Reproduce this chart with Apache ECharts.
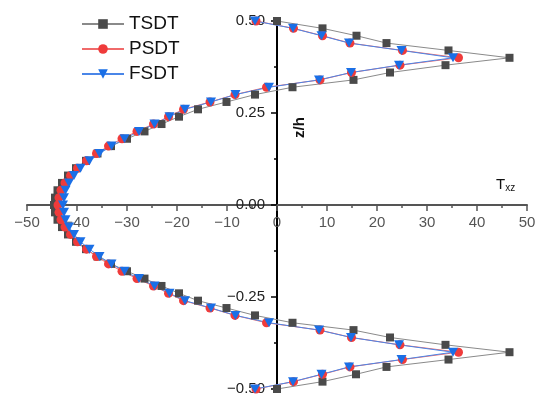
<!DOCTYPE html>
<html>
<head>
<meta charset="utf-8">
<script type="text/javascript" src="https://cdn.jsdelivr.net/npm/echarts@6/dist/echarts.min.js"></script>
<style>
    html, body { margin: 0; padding: 0; background: #fff; }
    #chart { width: 538px; height: 398px; }
</style>
</head>
<body>
<div id="chart"></div>
<script>
    // z/h positions, bottom to top
    var zh = [-0.50, -0.48, -0.46, -0.44, -0.42, -0.40, -0.38, -0.36, -0.34, -0.32,
        -0.30, -0.28, -0.26, -0.24, -0.22, -0.20, -0.18, -0.16, -0.14, -0.12,
        -0.10, -0.08, -0.06, -0.04, -0.02, 0.00, 0.02, 0.04, 0.06, 0.08,
        0.10, 0.12, 0.14, 0.16, 0.18, 0.20, 0.22, 0.24, 0.26, 0.28,
        0.30, 0.32, 0.34, 0.36, 0.38, 0.40, 0.42, 0.44, 0.46, 0.48, 0.50];

    var tsdt = [0.0, 9.1, 15.8, 21.9, 34.3, 46.5, 33.7, 22.6, 15.3, 3.1,
        -4.4, -10.1, -15.8, -19.6, -23.1, -26.5, -30.0, -33.2, -35.9, -38.2,
        -40.2, -41.8, -43.0, -43.9, -44.4, -44.6, -44.4, -43.9, -43.0, -41.8,
        -40.2, -38.2, -35.9, -33.2, -30.0, -26.5, -23.1, -19.6, -15.8, -10.1,
        -4.4, 3.1, 15.3, 22.6, 33.7, 46.5, 34.3, 21.9, 15.9, 9.1, 0.0];

    var psdt = [-4.2, 3.3, 9.1, 14.6, 25.1, 36.3, 24.6, 14.9, 8.6, -2.1,
        -8.4, -13.4, -18.7, -21.7, -24.7, -28.0, -31.0, -33.7, -36.1, -38.1,
        -39.9, -41.3, -42.4, -43.2, -43.6, -43.8, -43.6, -43.2, -42.4, -41.3,
        -39.9, -38.1, -36.1, -33.7, -31.0, -28.0, -24.7, -21.7, -18.7, -13.4,
        -8.4, -2.1, 8.6, 14.9, 24.6, 36.3, 25.1, 14.6, 9.1, 3.3, -4.2];

    var fsdt = [-4.4, 3.2, 8.9, 14.4, 24.9, 35.2, 24.4, 14.8, 8.4, -1.6,
        -8.3, -13.2, -18.4, -21.5, -24.5, -27.6, -30.5, -33.1, -35.5, -37.5,
        -39.3, -40.6, -41.6, -42.3, -42.6, -42.8, -42.6, -42.3, -41.6, -40.6,
        -39.3, -37.5, -35.5, -33.1, -30.5, -27.6, -24.5, -21.5, -18.4, -13.2,
        -8.3, -1.6, 8.4, 14.8, 24.4, 35.2, 24.9, 14.4, 8.9, 3.2, -4.4];

    var seriesNames = ['TSDT', 'PSDT', 'FSDT'];

    function pairs(xs) {
        var out = [];
        for (var i = 0; i < xs.length; i++) {
            out.push([xs[i], zh[i]]);
        }
        return out;
    }

    function minus(s) {
        return String(s).replace('-', '\u2212');
    }

    // plot box, the two axes cross in its middle
    var gridLeft = 27, gridRight = 11, gridTop = 21, gridBottom = 9;
    var plotW = 538 - gridLeft - gridRight;
    var plotH = 398 - gridTop - gridBottom;

    var chart = echarts.init(document.getElementById('chart'));

    var option = {
        backgroundColor: '#fff',
        animation: false,
        textStyle: {fontFamily: 'Liberation Sans, Arial, sans-serif'},
        grid: {
            left: gridLeft, right: gridRight, top: gridTop, bottom: gridBottom,
            containLabel: false, outerBoundsMode: 'none'
        },
        legend: {
            orient: 'vertical',
            left: 81,
            top: 14,
            padding: 0,
            itemWidth: 42,
            itemHeight: 12,
            itemGap: 5,
            textStyle: {fontSize: 19, lineHeight: 20, color: '#111'},
            data: seriesNames
        },
        xAxis: {
            type: 'value',
            position: 'bottom',
            offset: -plotH / 2,
            min: -50,
            max: 50,
            interval: 10,
            axisLine: {onZero: false, lineStyle: {color: '#555', width: 2}},
            axisTick: {inside: false, length: 6, lineStyle: {color: '#555', width: 1.5}},
            minorTick: {show: true, splitNumber: 2, length: 3, lineStyle: {color: '#555', width: 1.5}},
            axisLabel: {
                fontSize: 15, color: '#555', margin: 10,
                formatter: function (v) { return minus(v); }
            },
            splitLine: {show: false}
        },
        yAxis: {
            type: 'value',
            position: 'left',
            offset: -plotW / 2,
            min: -0.5,
            max: 0.5,
            interval: 0.25,
            axisLine: {onZero: false, lineStyle: {color: '#000', width: 2}},
            axisTick: {inside: false, length: 6, lineStyle: {color: '#000', width: 1.5}},
            minorTick: {show: true, splitNumber: 2, length: 3, lineStyle: {color: '#000', width: 1.5}},
            axisLabel: {
                fontSize: 15, color: '#222', margin: 12,
                formatter: function (v) { return minus(v.toFixed(2)); }
            },
            splitLine: {show: false}
        },
        graphic: [
            {
                type: 'text',
                x: 292, y: 138,
                rotation: Math.PI / 2,
                style: {text: 'z/h', font: 'bold 15px Liberation Sans', fill: '#111'}
            },
            {
                type: 'text',
                left: 496, top: 177,
                style: {
                    text: '{t|T}{s|xz}',
                    rich: {
                        t: {fontSize: 15, fill: '#111', fontFamily: 'Liberation Sans'},
                        s: {fontSize: 10, fill: '#111', padding: [8, 0, 0, 0], fontFamily: 'Liberation Sans'}
                    }
                }
            }
        ],
        series: [
            {
                name: 'TSDT',
                type: 'line',
                data: pairs(tsdt),
                symbol: 'rect',
                symbolSize: 8,
                showAllSymbol: true,
                lineStyle: {color: '#8a8a8a', width: 1},
                itemStyle: {color: '#4a4a4a'}
            },
            {
                name: 'PSDT',
                type: 'line',
                data: pairs(psdt),
                symbol: 'circle',
                symbolSize: 9,
                showAllSymbol: true,
                lineStyle: {color: '#f06a6a', width: 1},
                itemStyle: {color: '#ef3b3b'}
            },
            {
                name: 'FSDT',
                type: 'line',
                data: pairs(fsdt),
                symbol: 'path://M0,0 L10,0 L5,9 Z',
                symbolSize: [10, 9],
                showAllSymbol: true,
                lineStyle: {color: '#4a86e8', width: 1},
                itemStyle: {color: '#1a6fe6'}
            }
        ]
    };

    chart.setOption(option);
</script>
</body>
</html>
